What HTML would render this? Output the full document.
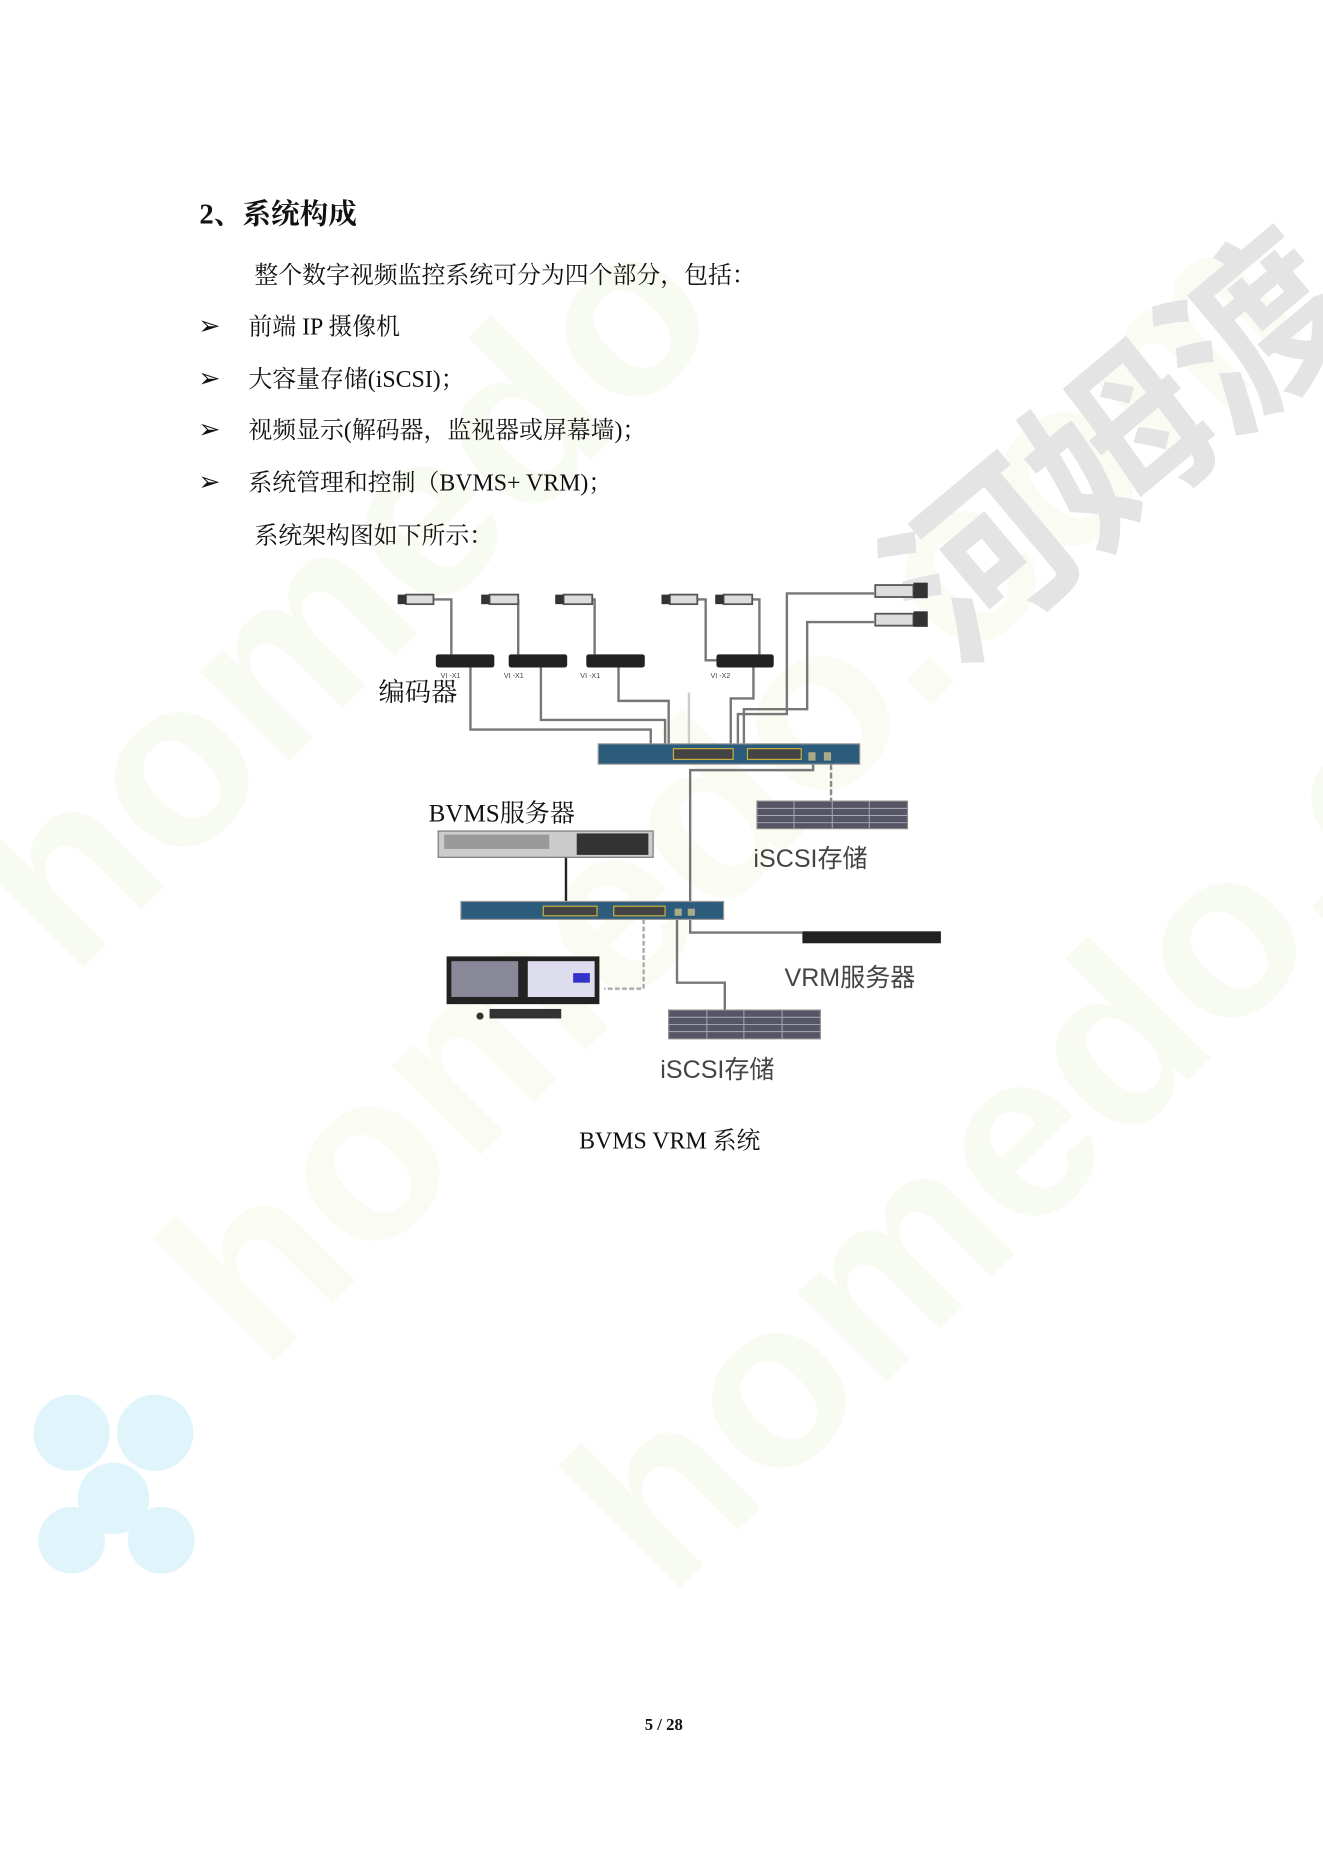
<!DOCTYPE html>
<html><head><meta charset="utf-8"><style>
html,body{margin:0;padding:0;background:#fff;}
svg{display:block;}
.t{font-family:"Liberation Serif","Noto Serif CJK SC",serif;fill:#111;}
.s{font-family:"Liberation Sans","Noto Sans CJK SC",sans-serif;fill:#444;}
</style></head><body>
<svg width="1323" height="1871" viewBox="0 0 1108 1567" xmlns="http://www.w3.org/2000/svg">
<!-- faint watermark -->
<g opacity="0.07" font-family="Liberation Sans,sans-serif" font-weight="bold">
<text x="60" y="820" font-size="200" fill="#9ad35a" transform="rotate(-45 60 820)">homedo</text>
<text x="220" y="1150" font-size="200" fill="#c8e06a" transform="rotate(-45 220 1150)">homedo.com</text>
<text x="560" y="1340" font-size="200" fill="#9ad35a" transform="rotate(-45 560 1340)">homedo.com</text>
</g>
<g fill="#d4f0fa" opacity="0.7">
<circle cx="60" cy="1200" r="32"/><circle cx="130" cy="1200" r="32"/><circle cx="95" cy="1255" r="30"/><circle cx="60" cy="1290" r="28"/><circle cx="135" cy="1290" r="28"/>
</g>
<text x="800" y="560" font-size="150" fill="#e4e4e4" font-family="Noto Sans CJK SC,sans-serif" font-weight="bold" transform="rotate(-40 800 560)">河姆渡</text>

<text class="t" x="167" y="187" font-size="24" font-weight="bold">2、系统构成</text>
<text class="t" x="213" y="237" font-size="20">整个数字视频监控系统可分为四个部分，包括：</text>
<g class="t" font-size="20">
<text x="166" y="280" font-size="22">➢</text><text x="208" y="280">前端 IP 摄像机</text>
<text x="166" y="324" font-size="22">➢</text><text x="208" y="324">大容量存储(iSCSI)；</text>
<text x="166" y="367" font-size="22">➢</text><text x="208" y="367">视频显示(解码器，监视器或屏幕墙)；</text>
<text x="166" y="411" font-size="22">➢</text><text x="208" y="411">系统管理和控制（BVMS+ VRM)；</text>
</g>
<text class="t" x="213" y="455" font-size="20">系统架构图如下所示：</text>

<!-- diagram lines -->
<g fill="none" stroke="#777" stroke-width="2">
<polyline points="363,502 378,502 378,548"/>
<polyline points="434,502 434,548"/>
<polyline points="496,502 498,502 498,548"/>
<polyline points="584,502 591,502 591,553 600,553"/>
<polyline points="630,502 636,502 636,548"/>
<polyline points="394,559 394,611 545,611 545,623"/>
<polyline points="453,559 453,603 557,603 557,623"/>
<polyline points="518,559 518,587 560,587 560,623"/>
<polyline points="631,559 631,585 612,585 612,623"/>
<polyline points="732,497 659,497 659,598 618,598 618,623"/>
<polyline points="732,521 676,521 676,594 623,594 623,623"/>
<polyline points="681,640 681,645 578,645 578,755"/>
<polyline points="578,770 578,781 672,781"/>
<polyline points="567,770 567,823 607,823 607,846"/>
<polyline points="539,770 539,828 506,828" stroke="#aaa" stroke-dasharray="4 2"/>
<polyline points="577,580 577,623" stroke="#ccc"/>
<line x1="696" y1="640" x2="696" y2="671" stroke="#888" stroke-dasharray="5 2"/>
</g>
<line x1="474" y1="718" x2="474" y2="755" stroke="#222" stroke-width="2"/>

<!-- cameras -->
<g fill="#ddd" stroke="#555" stroke-width="1.5">
<rect x="340" y="498" width="23" height="8"/><rect x="410" y="498" width="24" height="8"/><rect x="472" y="498" width="24" height="8"/><rect x="561" y="498" width="23" height="8"/><rect x="606" y="498" width="24" height="8"/>
<rect x="733" y="490" width="32" height="10"/><rect x="733" y="514" width="32" height="10"/>
</g>
<g fill="#333"><rect x="333" y="498" width="7" height="8"/><rect x="403" y="498" width="7" height="8"/><rect x="465" y="498" width="7" height="8"/><rect x="554" y="498" width="7" height="8"/><rect x="599" y="498" width="7" height="8"/>
<rect x="765" y="488" width="12" height="13"/><rect x="765" y="512" width="12" height="13"/></g>
<!-- encoders -->
<g fill="#222"><rect x="365" y="548" width="49" height="11" rx="2"/><rect x="426" y="548" width="49" height="11" rx="2"/><rect x="491" y="548" width="49" height="11" rx="2"/><rect x="600" y="548" width="48" height="11" rx="2"/></g>
<g class="s" font-size="6" fill="#777"><text x="369" y="568">VI  -X1</text><text x="422" y="568">VI  -X1</text><text x="486" y="568">VI  -X1</text><text x="595" y="568">VI  -X2</text></g>
<text class="t" x="317" y="587" font-size="22" fill="#555">编码器</text>

<!-- switches -->
<rect x="501" y="623" width="219" height="17" fill="#2c5c7c" stroke="#999"/>
<rect x="564" y="627" width="50" height="9" fill="#444" stroke="#c8b040"/><rect x="626" y="627" width="45" height="9" fill="#444" stroke="#c8b040"/>
<rect x="677" y="630" width="6" height="7" fill="#aa8"/><rect x="690" y="630" width="6" height="7" fill="#aa8"/>
<rect x="386" y="755" width="220" height="15" fill="#2c5c7c" stroke="#999"/>
<rect x="455" y="759" width="45" height="8" fill="#444" stroke="#c8b040"/><rect x="514" y="759" width="43" height="8" fill="#444" stroke="#c8b040"/>
<rect x="565" y="761" width="6" height="6" fill="#aa8"/><rect x="576" y="761" width="6" height="6" fill="#aa8"/>

<!-- BVMS server -->
<rect x="367" y="696" width="180" height="22" fill="#ccc" stroke="#777"/>
<rect x="372" y="699" width="88" height="12" fill="#999"/><rect x="483" y="698" width="60" height="18" fill="#333"/>
<text class="t" x="359" y="688" font-size="21" fill="#444">BVMS服务器</text>
<!-- iSCSI top -->
<rect x="634" y="671" width="126" height="23" fill="#556" stroke="#888"/>
<g stroke="#aab" stroke-width="0.8"><line x1="634" y1="677" x2="760" y2="677"/><line x1="634" y1="683" x2="760" y2="683"/><line x1="634" y1="689" x2="760" y2="689"/><line x1="665" y1="671" x2="665" y2="694"/><line x1="697" y1="671" x2="697" y2="694"/><line x1="728" y1="671" x2="728" y2="694"/></g>
<text class="s" x="631" y="726" font-size="21">iSCSI存储</text>
<!-- VRM -->
<rect x="672" y="780" width="116" height="10" fill="#222"/>
<text class="s" x="657" y="826" font-size="21">VRM服务器</text>
<!-- monitors -->
<rect x="374" y="801" width="64" height="40" fill="#222"/><rect x="378" y="805" width="56" height="30" fill="#889"/>
<rect x="438" y="801" width="64" height="40" fill="#222"/><rect x="442" y="805" width="56" height="30" fill="#dde"/>
<rect x="480" y="815" width="14" height="8" fill="#33c"/>
<rect x="410" y="845" width="60" height="8" fill="#333"/><circle cx="402" cy="851" r="3" fill="#333"/>
<!-- iSCSI bottom -->
<rect x="560" y="846" width="127" height="24" fill="#556" stroke="#888"/>
<g stroke="#aab" stroke-width="0.8"><line x1="560" y1="852" x2="687" y2="852"/><line x1="560" y1="858" x2="687" y2="858"/><line x1="560" y1="864" x2="687" y2="864"/><line x1="592" y1="846" x2="592" y2="870"/><line x1="623" y1="846" x2="623" y2="870"/><line x1="655" y1="846" x2="655" y2="870"/></g>
<text class="s" x="553" y="903" font-size="21">iSCSI存储</text>

<text class="t" x="485" y="962" font-size="20">BVMS  VRM 系统</text>
<text class="t" x="540" y="1449" font-size="14" font-weight="bold">5 / 28</text>
</svg>
</body></html>
